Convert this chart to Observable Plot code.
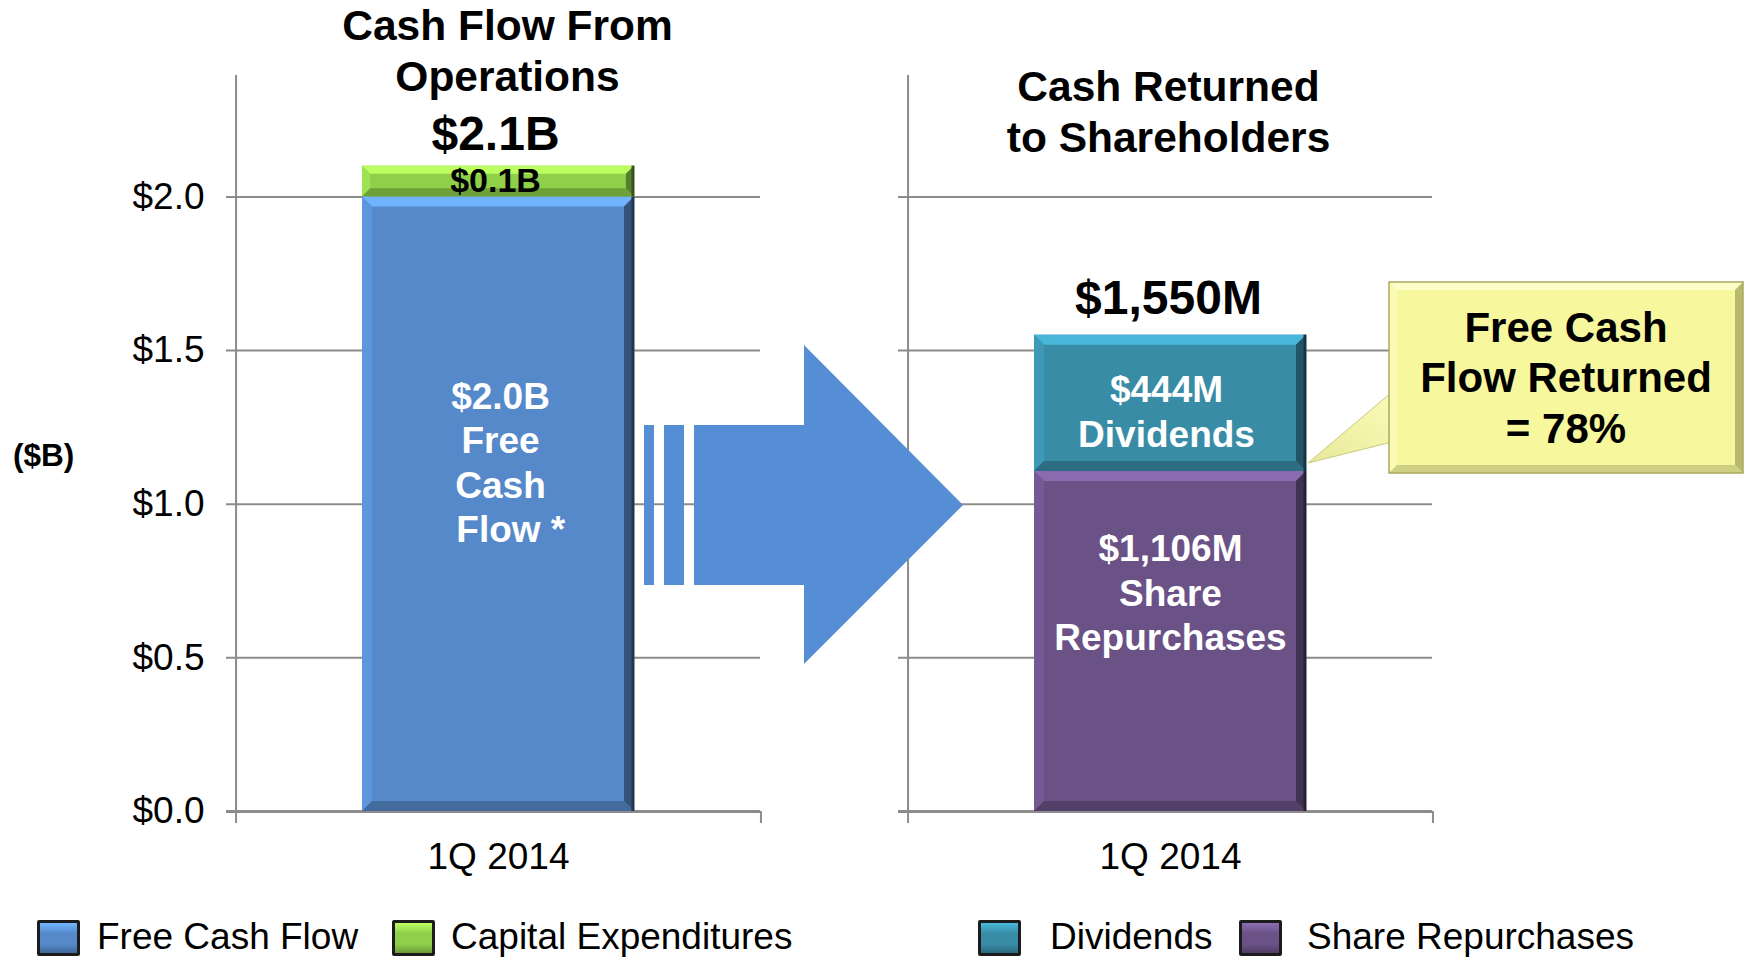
<!DOCTYPE html>
<html>
<head>
<meta charset="utf-8">
<script src="https://cdn.jsdelivr.net/npm/d3@7"></script>
<script src="https://cdn.jsdelivr.net/npm/@observablehq/plot@0.6"></script>
<style>
  body { margin: 0; background: #fff; font-family: "Liberation Sans", Arial, sans-serif; }
  #wrap { position: relative; width: 1748px; height: 958px; overflow: hidden; background: #fff; }
  #wrap > svg { position: absolute; left: 0; top: 0; }
  #legend { position: absolute; left: 0; top: 900px; width: 1748px; height: 58px; }
  .sw { position: absolute; top: 20px; width: 37px; height: 30px; border: 3px solid #1c1c1c; border-radius: 2px; box-sizing: content-box; }
  .lt { position: absolute; top: 0; height: 74px; line-height: 74px; font-size: 37px; color: #000; white-space: nowrap; }
</style>
</head>
<body>
<div id="wrap"><div id="legend"></div></div>
<script>
// ---------------- data ----------------
const quarter = "1Q 2014";
const panelKeys = ["ops", "ret"];
const panelTitles = ["Cash Flow From\nOperations", "Cash Returned\nto Shareholders"];
const seriesNames = ["Free Cash Flow", "Capital Expenditures", "Share Repurchases", "Dividends"];
const seriesPanel = ["ops", "ops", "ret", "ret"];
const seriesValues = [2.0, 0.1, 1.106, 0.444];
const segmentLabels = ["$2.0B\nFree\nCash\n\u00a0\u00a0Flow *", "$0.1B", "$1,106M\nShare\nRepurchases", "$444M\nDividends"];
const totalValues = [2.1, 1.55];
const totalLabels = ["$2.1B", "$1,550M"];
const yTicks = [0, 0.5, 1.0, 1.5, 2.0];
const yUnitLabel = "($B)";
const calloutLines = ["Free Cash", "Flow Returned", "= 78%"];
const legendNames = ["Free Cash Flow", "Capital Expenditures", "Dividends", "Share Repurchases"];
const seriesColors = ["#5689c9", "#8fcf4a", "#6a5287", "#388ca6"];

// ---------------- tables built from the arrays ----------------
const rows = seriesNames.map((s, i) => ({series: s, panel: seriesPanel[i], quarter, value: seriesValues[i], label: segmentLabels[i]}));
const totalRows = panelKeys.map((p, i) => ({panel: p, quarter, value: totalValues[i], label: totalLabels[i]}));
const titleRows = panelKeys.map((p, i) => ({panel: p, quarter, label: panelTitles[i]}));
const colorOf = s => seriesColors[seriesNames.indexOf(s)];

// ---------------- layout ----------------
const FONT = '"Liberation Sans", Arial, Helvetica, sans-serif';
const W = 1748, H = 900, mL = 235, mR = 316, mT = 75, mB = 89;
const yMax = 2.395;
const facetPad = 0.219;
const step = (W - mL - mR) / (2 - facetPad);
const half = step * (1 - facetPad) / 2;
const pxPerUnit = (H - mT - mB) / yMax;
const below = -12 / pxPerUnit;
const GRID = "#8c8c8c";

const seg = (s, dx, dy, fill, size, lh) =>
  Plot.text(rows, Plot.filter(d => d.series === s,
    Plot.stackY({fx: "panel", x: "quarter", y: "value", text: "label", dx, dy, fill,
      fontSize: size, fontWeight: "bold", lineHeight: lh, fontFamily: FONT})));
const tot = (p, dx, dy) =>
  Plot.text(totalRows.filter(d => d.panel === p), {fx: "panel", x: "quarter", y: "value", text: "label",
    dx, dy, fontSize: 48, fontWeight: "bold", fontFamily: FONT, fill: "#000"});
const ttl = (p, dx, dy) =>
  Plot.text(titleRows.filter(d => d.panel === p), {fx: "panel", x: "quarter", text: "label",
    frameAnchor: "top", lineAnchor: "middle", dx, dy, fontSize: 42.5, fontWeight: "bold",
    lineHeight: 1.2, fontFamily: FONT, fill: "#000"});

const plot = Plot.plot({
  width: W, height: H,
  marginLeft: mL, marginRight: mR, marginTop: mT, marginBottom: mB,
  style: {fontFamily: FONT, overflow: "visible", background: "transparent", color: "#000"},
  fx: {domain: panelKeys, paddingInner: facetPad, paddingOuter: 0, axis: null, label: null},
  x: {domain: [quarter], padding: 0.3167, label: null},
  y: {domain: [0, yMax], label: null},
  color: {domain: seriesNames, range: seriesColors},
  marks: [
    Plot.gridY(yTicks.filter(d => d > 0), {stroke: GRID, strokeOpacity: 1, strokeWidth: 2, insetLeft: -9}),
    Plot.ruleY([0], {stroke: GRID, strokeWidth: 3, insetLeft: -9}),
    Plot.ruleX([quarter], {x: d => d, y1: below, y2: yMax, dx: -half, stroke: GRID, strokeWidth: 2}),
    Plot.ruleX([quarter], {x: d => d, y1: below, y2: 0, dx: half, stroke: GRID, strokeWidth: 2}),
    Plot.axisY(yTicks, {tickSize: 0, tickPadding: 31, fontSize: 37, fontFamily: FONT,
      tickFormat: d => "$" + d.toFixed(1), label: null}),
    Plot.axisX({tickSize: 0, tickPadding: 31, fontSize: 37, fontFamily: FONT, label: null}),
    Plot.barY(rows, Plot.stackY({fx: "panel", x: "quarter", y: "value", fill: "series"})),
    seg("Free Cash Flow", 2, -43, "#fff", 37, 1.2),
    seg("Capital Expenditures", -3, -3, "#000", 34, 1.2),
    seg("Share Repurchases", 0, -50, "#fff", 37, 1.2),
    seg("Dividends", -4, 7, "#fff", 37, 1.22),
    tot("ops", -3, -32),
    tot("ret", -2, -37),
    ttl("ops", 9, -26),
    ttl("ret", -2, 35)
  ]
});

// bevel effect on bars (derived from the drawn rects)
d3.select(plot).selectAll('g[aria-label="bar"] rect').each(function () {
  const r = d3.select(this);
  const x = +r.attr("x"), y = +r.attr("y"), w = +r.attr("width"), h = +r.attr("height");
  const c = d3.color(r.attr("fill"));
  if (!c) return;
  const b = Math.min(10, h / 3.8);
  const g = d3.select(this.parentNode).append("g");
  const poly = (pts, col) => g.append("polygon").attr("points", pts.map(p => p.join(",")).join(" ")).attr("fill", col);
  poly([[x, y], [x + w, y], [x + w - b, y + b], [x + b, y + b]], c.brighter(0.75).formatHex());
  poly([[x, y], [x + b, y + b], [x + b, y + h - b], [x, y + h]], c.brighter(0.25).formatHex());
  poly([[x, y + h], [x + w, y + h], [x + w - b, y + h - b], [x + b, y + h - b]], c.darker(0.7).formatHex());
  poly([[x + w, y], [x + w - b, y + b], [x + w - b, y + h - b], [x + w, y + h]], c.darker(1.4).formatHex());
  g.append("line").attr("x1", x + w - 1).attr("x2", x + w - 1).attr("y1", y).attr("y2", y + h)
    .attr("stroke", c.darker(2.6).formatHex()).attr("stroke-width", 3);
});

const wrap = document.getElementById("wrap");
wrap.insertBefore(plot, wrap.firstChild);

// ---------------- overlay: arrow, callout, unit label ----------------
const ov = d3.select(wrap).append("svg").attr("width", W).attr("height", H)
  .style("position", "absolute").style("left", 0).style("top", 0).style("font-family", FONT);

const ARROW = "#558ed5";
ov.append("rect").attr("x", 644).attr("y", 425).attr("width", 10).attr("height", 160).attr("fill", ARROW);
ov.append("rect").attr("x", 664).attr("y", 425).attr("width", 20).attr("height", 160).attr("fill", ARROW);
ov.append("polygon").attr("fill", ARROW)
  .attr("points", "694,425 804,425 804,345 963,505 804,664 804,585 694,585");

ov.append("text").attr("x", 13).attr("y", 455).attr("dominant-baseline", "central")
  .attr("font-size", 31.5).attr("font-weight", "bold").text(yUnitLabel);

// callout
const defs = ov.append("defs");
const tg = defs.append("linearGradient").attr("id", "tailG").attr("x1", 0).attr("y1", 1).attr("x2", 1).attr("y2", 0);
tg.append("stop").attr("offset", "0%").attr("stop-color", "#e8e89a");
tg.append("stop").attr("offset", "100%").attr("stop-color", "#fbfbb8");
ov.append("polygon").attr("points", "1392,392 1308,463 1392,442").attr("fill", "url(#tailG)")
  .attr("stroke", "#c9c97e").attr("stroke-width", 1);
const bx = 1389, by = 282, bw = 354, bh = 191, bb = 8;
ov.append("rect").attr("x", bx).attr("y", by).attr("width", bw).attr("height", bh).attr("fill", "#f7f79e");
const cp = (pts, col) => ov.append("polygon").attr("points", pts.map(p => p.join(",")).join(" ")).attr("fill", col);
cp([[bx, by], [bx + bw, by], [bx + bw - bb, by + bb], [bx + bb, by + bb]], "#fdfdc9");
cp([[bx, by], [bx + bb, by + bb], [bx + bb, by + bh - bb], [bx, by + bh]], "#fafab6");
cp([[bx, by + bh], [bx + bw, by + bh], [bx + bw - bb, by + bh - bb], [bx + bb, by + bh - bb]], "#cfcf84");
cp([[bx + bw, by], [bx + bw - bb, by + bb], [bx + bw - bb, by + bh - bb], [bx + bw, by + bh]], "#b9b96c");
ov.append("rect").attr("x", bx).attr("y", by).attr("width", bw).attr("height", bh)
  .attr("fill", "none").attr("stroke", "#a9a960").attr("stroke-width", 1.5);
ov.append("text").attr("x", bx + bw / 2).attr("text-anchor", "middle")
  .attr("font-size", 42).attr("font-weight", "bold")
  .selectAll("tspan").data(calloutLines).join("tspan")
  .attr("x", bx + bw / 2).attr("y", (d, i) => 327 + i * 50.5).attr("dominant-baseline", "central").text(d => d);

// ---------------- legend ----------------
const legendSwatchX = [37, 392, 978, 1239];
const legendTextX = [97, 451, 1050, 1307];
const legend = d3.select("#legend");
legendNames.forEach((name, i) => {
  const c = d3.color(colorOf(name));
  legend.append("div").attr("class", "sw").style("left", legendSwatchX[i] + "px")
    .style("background", `linear-gradient(to bottom, ${c.brighter(0.8).formatHex()} 0%, ${c.formatHex()} 35%, ${c.formatHex()} 70%, ${c.darker(0.8).formatHex()} 100%)`);
  legend.append("div").attr("class", "lt").style("left", legendTextX[i] + "px").text(name);
});
</script>
</body>
</html>
